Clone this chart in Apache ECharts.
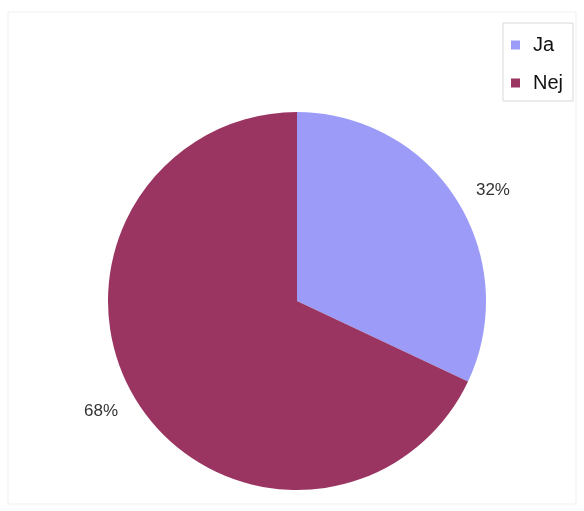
<!DOCTYPE html>
<html>
<head>
<meta charset="utf-8">
<script src="https://cdn.jsdelivr.net/npm/echarts@6/dist/echarts.min.js"></script>
<style>
  html, body { margin: 0; padding: 0; background: #fff; }
  #chart { width: 584px; height: 511px; }
</style>
</head>
<body>
<div id="chart"></div>
<script>
var categories = ['Ja', 'Nej'];
var shares = [32, 68];
var sliceColors = ['#9c9cf8', '#9a3562'];

var chart = echarts.init(document.getElementById('chart'));
var pieData = categories.map(function (name, i) {
  return { name: name, value: shares[i], itemStyle: { color: sliceColors[i] } };
});

var option = {
  backgroundColor: '#ffffff',
  animation: false,
  graphic: [{
    type: 'rect',
    shape: { x: 8, y: 12, width: 568, height: 492 },
    style: { fill: 'none', stroke: '#f0f0f0', lineWidth: 1 }
  }],
  legend: {
    orient: 'vertical',
    right: 11,
    top: 23,
    itemWidth: 9,
    itemHeight: 9,
    itemGap: 14,
    icon: 'rect',
    padding: [10, 10, 6, 8],
    borderColor: '#d8d8d8',
    borderWidth: 1,
    textStyle: {
      fontFamily: 'Liberation Sans, Arial, sans-serif',
      fontSize: 20,
      lineHeight: 24,
      color: '#111',
      padding: [0, 0, 0, 8]
    },
    data: categories
  },
  series: [{
    type: 'pie',
    center: [297, 301],
    radius: 189,
    startAngle: 90,
    clockwise: true,
    data: pieData,
    label: {
      show: true,
      position: 'outside',
      formatter: '{c}%',
      fontFamily: 'Liberation Sans, Arial, sans-serif',
      fontSize: 17,
      color: '#333'
    },
    labelLine: { show: false, length: 17, length2: 0 },
    emphasis: { disabled: true }
  }]
};
chart.setOption(option);
</script>
</body>
</html>
